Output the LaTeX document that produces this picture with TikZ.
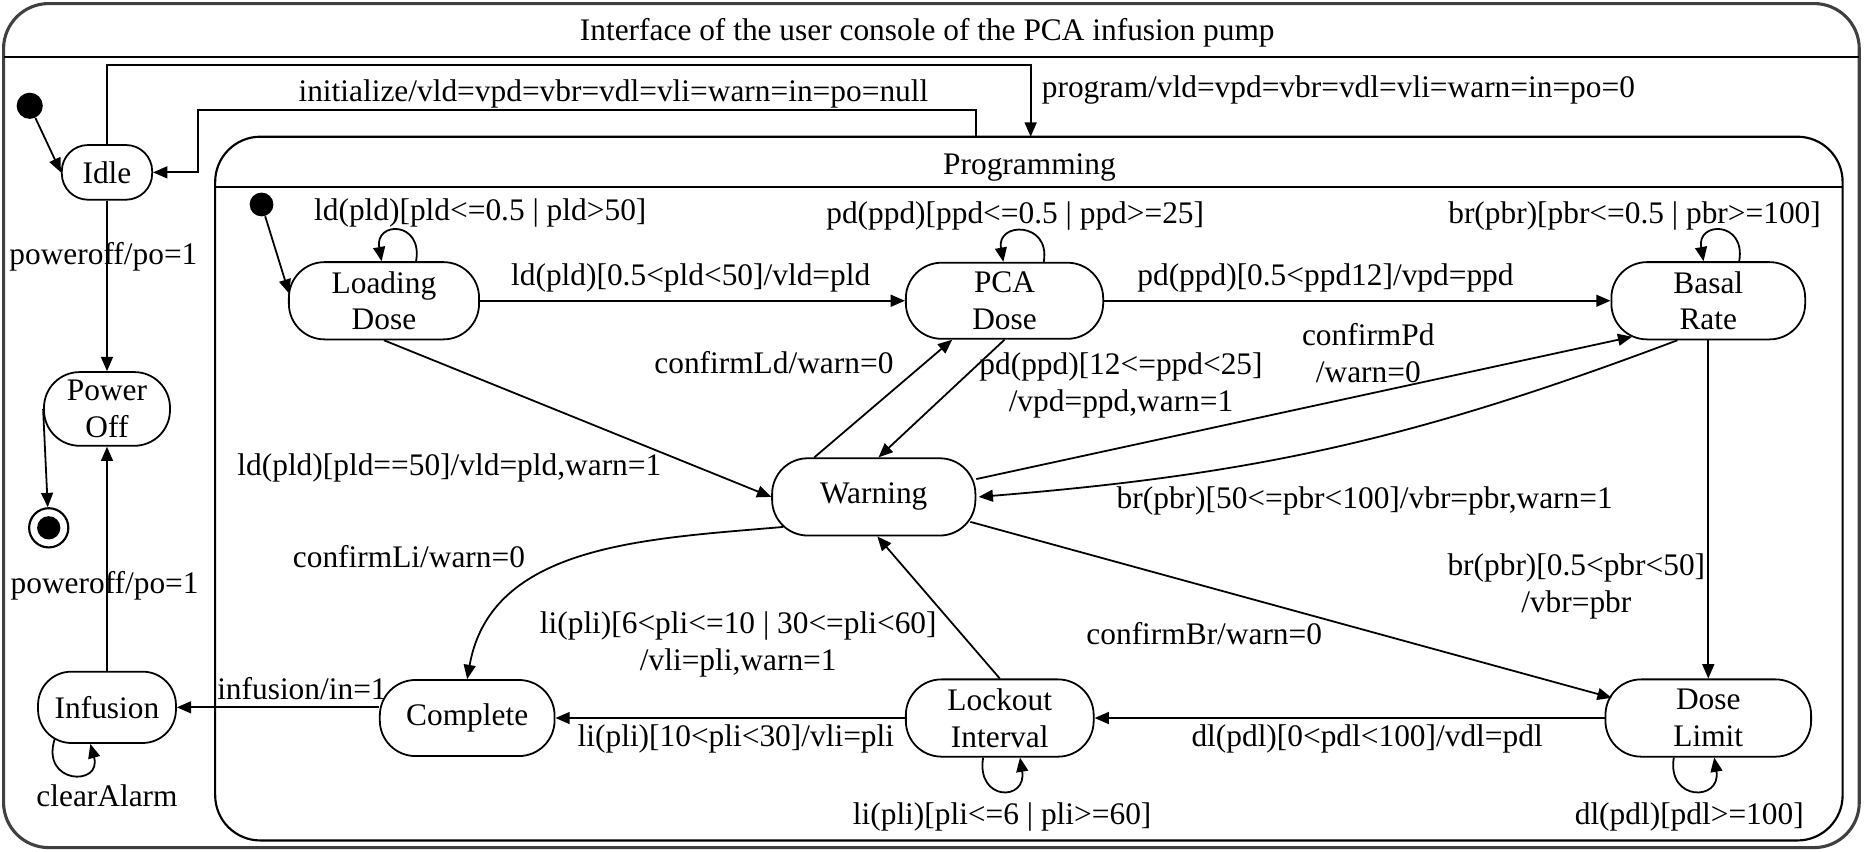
\documentclass[tikz,border=0pt]{standalone}
\usepackage{fontspec}
\setmainfont{Liberation Serif}
\usetikzlibrary{arrows.meta,calc}
\begin{document}
\begin{tikzpicture}[x=0.5pt,y=0.5pt,
  every node/.style={font=\fontsize{13.2}{15.5}\selectfont},
  st/.style={draw, line width=0.75pt, rounded corners=15pt, inner sep=0pt, align=center},
  lbl/.style={inner sep=0pt, align=center},
  arr/.style={line width=0.75pt, -{Triangle[length=6pt,width=5pt]}},
  frame/.style={draw, line width=0.9pt, rounded corners=19pt},
  ]
\useasboundingbox (0,0) rectangle (1568,-716);
% frames
\draw[frame, line width=1.3pt, black!75] (3,-3) rectangle (1564,-713);
\draw[line width=0.9pt] (3,-48) -- (1564,-48);
\draw[frame] (181,-115) rectangle (1550,-707);
\draw[line width=0.75pt] (181,-157) -- (1550,-157);
\node[lbl] (title) at (780,-28) {Interface of the user console of the PCA infusion pump};
\node[lbl] (progtitle) at (866,-141) {Programming};
\coordinate (progIn) at (867,-115);
\coordinate (progOut) at (821,-115);
% states
\node[st, minimum width=38pt, minimum height=23pt, rounded corners=11pt] (idle) at (90,-145) {Idle};
\node[st, minimum width=53pt, minimum height=31pt] (poweroff) at (90,-344) {Power\\Off};
\node[st, minimum width=58pt, minimum height=30pt, rounded corners=14pt] (infusion) at (90,-595) {Infusion};
\node[st, minimum width=73.5pt, minimum height=32pt] (complete) at (393,-604) {Complete};
\node[st, minimum width=79pt, minimum height=32.5pt] (lockout) at (841,-604) {Lockout\\Interval};
\node[st, minimum width=86.5pt, minimum height=32.5pt] (doselimit) at (1437,-604) {Dose\\Limit};
\node[st, minimum width=85.5pt, minimum height=32.5pt] (warning) at (735,-418) {Warning};
\node[st, minimum width=81.5pt, minimum height=32.5pt] (basal) at (1437,-253) {Basal\\Rate};
\node[st, minimum width=83pt, minimum height=32pt] (pca) at (845,-253) {PCA\\Dose};
\node[st, minimum width=80pt, minimum height=32.5pt] (loading) at (323,-253) {Loading\\Dose};
\node[circle, fill, inner sep=0pt, minimum size=11pt] (init1) at (25,-89) {};
\node[circle, fill, inner sep=0pt, minimum size=10pt] (init2) at (220,-172) {};
\node[circle, draw, line width=0.9pt, inner sep=0pt, minimum size=16.5pt] (final) at (41,-444) {};
\fill (final.center) circle (4.9pt);
% connectors
\draw[arr] (init1) -- (idle.west);
\draw[arr] (idle.north) |- ($(progIn)+(0,60)$) -- (progIn);
\draw[arr] (progOut) -- ++(0,22.5) -| ($(idle.east)+(38,0)$) -- (idle.east);
\draw[arr] (idle.south) -- (poweroff.north);
\draw[arr] (poweroff.west) -- (final);
\draw[arr] (infusion.north) -- (poweroff.south);
\draw[arr] ($(infusion.south)+(-44,4)$) .. controls ($(infusion.south)+(-56,-34)$) and ($(infusion.south)+(-4,-36)$) .. ($(infusion.south)+(-14,0)$);
\draw[arr] (complete.west |- infusion.east) -- (infusion.east);
\draw[arr] (init2) -- ($(loading.west)+(1,6)$);
\draw[arr] (loading.east) -- (pca.west);
\draw[arr] (pca.east) -- (basal.west);
\draw[arr] (loading.south) -- (warning.west);
\draw[arr] ($(warning.north)+(-50,0)$) -- ($(pca.south)+(-44,0)$);
\draw[arr] (pca.south) -- ($(warning.north)+(4,0)$);
\draw[arr] ($(warning.east)+(0,15)$) -- ($(basal.south)+(-64,3)$);
\draw[arr] ($(basal.south)+(-26,0)$) to[bend left=8] ($(warning.east)+(2,0)$);
\draw[arr] (basal.south) -- (doselimit.north);
\draw[arr] ($(warning.east)+(-5,-21)$) -- ($(doselimit.west)+(6,17)$);
\draw[arr] ($(warning.south)+(-76,8)$) to[out=185,in=80] (complete.north);
\draw[arr] (lockout.north) -- ($(warning.south)+(3,0)$);
\draw[arr] (lockout.west) -- (complete.east);
\draw[arr] (doselimit.west) -- (lockout.east);
% self loops
\draw[arr] ($(loading.north)+(27,0)$) .. controls ($(loading.north)+(33,34)$) and ($(loading.north)+(-8,34)$) .. ($(loading.north)+(-2,0)$);
\draw[arr] ($(pca.north)+(33,0)$) .. controls ($(pca.north)+(39,34)$) and ($(pca.north)+(-7,34)$) .. ($(pca.north)+(-1,0)$);
\draw[arr] ($(basal.north)+(26,0)$) .. controls ($(basal.north)+(32,34)$) and ($(basal.north)+(-10,34)$) .. ($(basal.north)+(-4,0)$);
\draw[arr] ($(lockout.south)+(-14,0)$) .. controls ($(lockout.south)+(-20,-37)$) and ($(lockout.south)+(23,-37)$) .. ($(lockout.south)+(17,0)$);
\draw[arr] ($(doselimit.south)+(-29,0)$) .. controls ($(doselimit.south)+(-35,-37)$) and ($(doselimit.south)+(11,-37)$) .. ($(doselimit.south)+(5,0)$);
% labels
\node[lbl, anchor=west] (lprog) at (876,-76) {program/vld=vpd=vbr=vdl=vli=warn=in=po=0};
\node[lbl] (linit) at (516,-79) {initialize/vld=vpd=vbr=vdl=vli=warn=in=po=null};
\node[lbl] (lpo1) at (87,-216) {poweroff/po=1};
\node[lbl] (lpo2) at (88,-493) {poweroff/po=1};
\node[lbl] (lclear) at (90,-669) {clearAlarm};
\node[lbl] (linf) at (254,-579) {infusion/in=1};
\node[lbl] (lldself) at (404,-179) {ld(pld)[pld<=0.5 | pld>50]};
\node[lbl] (lpdself) at (854,-182) {pd(ppd)[ppd<=0.5 | ppd>=25]};
\node[lbl] (lbrself) at (1375,-182) {br(pbr)[pbr<=0.5 | pbr>=100]};
\node[lbl] (lldpd) at (581,-234) {ld(pld)[0.5<pld<50]/vld=pld};
\node[lbl] (lpdbr) at (1115,-234) {pd(ppd)[0.5<ppd12]/vpd=ppd};
\node[lbl] (lcld) at (651,-305) {confirmLd/warn=0};
\node[lbl] (lpdw) at (943,-324) {pd(ppd)[12<=ppd<25]\\/vpd=ppd,warn=1};
\node[lbl] (lcpd) at (1151,-297) {confirmPd\\/warn=0};
\node[lbl] (lldw) at (378,-394) {ld(pld)[pld==50]/vld=pld,warn=1};
\node[lbl] (lbrw) at (1148,-421) {br(pbr)[50<=pbr<100]/vbr=pbr,warn=1};
\node[lbl] (lcli) at (344,-468) {confirmLi/warn=0};
\node[lbl] (lbrdl) at (1326,-493) {br(pbr)[0.5<pbr<50]\\/vbr=pbr};
\node[lbl] (lliw) at (621,-542) {li(pli)[6<pli<=10 | 30<=pli<60]\\/vli=pli,warn=1};
\node[lbl] (lcbr) at (1013,-533) {confirmBr/warn=0};
\node[lbl] (llic) at (619,-622) {li(pli)[10<pli<30]/vli=pli};
\node[lbl] (ldll) at (1150,-622) {dl(pdl)[0<pdl<100]/vdl=pdl};
\node[lbl] (lliself) at (843,-687) {li(pli)[pli<=6 | pli>=60]};
\node[lbl] (ldlself) at (1421,-687) {dl(pdl)[pdl>=100]};
\end{tikzpicture}
\end{document}
